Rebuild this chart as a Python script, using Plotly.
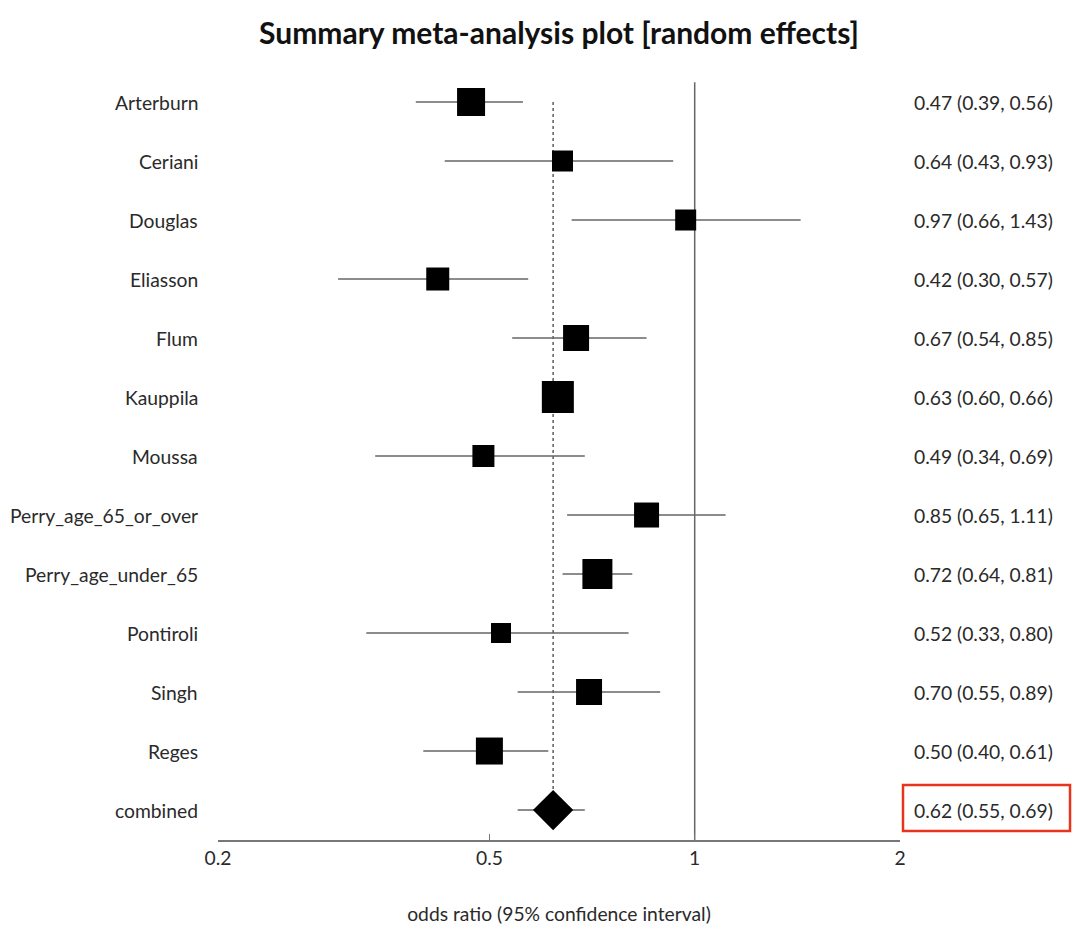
import plotly.graph_objects as go
import math

studies = ["Arterburn", "Ceriani", "Douglas", "Eliasson", "Flum", "Kauppila", "Moussa",
           "Perry_age_65_or_over", "Perry_age_under_65", "Pontiroli", "Singh", "Reges"]
odds = [0.47, 0.64, 0.97, 0.42, 0.67, 0.63, 0.49, 0.85, 0.72, 0.52, 0.70, 0.50]
lower = [0.39, 0.43, 0.66, 0.30, 0.54, 0.60, 0.34, 0.65, 0.64, 0.33, 0.55, 0.40]
upper = [0.56, 0.93, 1.43, 0.57, 0.85, 0.66, 0.69, 1.11, 0.81, 0.80, 0.89, 0.61]
box_size = [28, 21, 21, 23, 26, 32, 22, 25, 30, 20, 26, 27]

combined_label = "combined"
combined_or = 0.62
combined_lo = 0.55
combined_hi = 0.69

null_value = 1

tick_vals = [0.2, 0.5, 1, 2]
tick_text = ["0.2", "0.5", "1", "2"]

FONT = "Lato, 'Open Sans', sans-serif"
TXT = "#2a2a2a"
LINE = "#666666"
FS = 19.3

rows = list(range(len(studies)))
comb_row = len(studies)

labels = studies + [combined_label]
ors = odds + [combined_or]
los = lower + [combined_lo]
his = upper + [combined_hi]
all_rows = rows + [comb_row]

# whiskers (drawn beneath the markers)
wx, wy = [], []
for r, l, h in zip(all_rows, los, his):
    wx += [l, h, None]
    wy += [r, r, None]

fig = go.Figure()
fig.add_trace(go.Scatter(x=wx, y=wy, mode="lines", line=dict(color=LINE, width=1.4),
                         showlegend=False, hoverinfo="skip"))

fig.add_trace(go.Scatter(
    x=odds, y=rows, mode="markers",
    marker=dict(symbol="square", size=box_size, color="black", opacity=1, line=dict(width=0)),
    showlegend=False, hoverinfo="skip"))

fig.add_trace(go.Scatter(
    x=[combined_or], y=[comb_row], mode="markers",
    marker=dict(symbol="diamond", size=31, color="black", opacity=1, line=dict(width=0)),
    showlegend=False, hoverinfo="skip"))

shapes = [
    # line of no effect (shape x in data units on log axis)
    dict(type="line", xref="x", yref="paper", x0=null_value, x1=null_value, y0=0, y1=0.997,
         line=dict(color=LINE, width=1.5), layer="below"),
    # pooled estimate dotted line
    dict(type="line", xref="x", yref="y", x0=combined_or, x1=combined_or,
         y0=0, y1=comb_row, line=dict(color="#333333", width=1.2, dash="dot"), layer="below"),
    # red highlight box
    dict(type="rect", xref="paper", yref="paper", x0=1.0044, x1=1.2493, y0=0.0118, y1=0.0724,
         line=dict(color="#E8341C", width=2.5), fillcolor="rgba(0,0,0,0)"),
]

annotations = []
for i, (lab, o, l, h) in zip(all_rows, zip(labels, ors, los, his)):
    annotations.append(dict(text=lab, xref="paper", yref="y", x=0, y=i, xanchor="right",
                            yanchor="middle", xshift=-18, showarrow=False,
                            font=dict(family=FONT, size=FS, color=TXT)))
    annotations.append(dict(text=f"{o:.2f} ({l:.2f}, {h:.2f})", xref="paper", yref="y", x=1, y=i,
                            xanchor="right", yanchor="middle", xshift=155, showarrow=False,
                            font=dict(family=FONT, size=FS, color=TXT)))

fig.update_layout(
    width=1080, height=937,
    margin=dict(l=218, r=180, t=80, b=97),
    paper_bgcolor="white", plot_bgcolor="white",
    title=dict(text="<b>Summary meta-analysis plot [random effects]</b>",
               x=0.5, xref="paper", y=1 - 33 / 937, yref="container", yanchor="middle",
               font=dict(family=FONT, size=30, color="#111111")),
    xaxis=dict(type="log", range=[math.log10(0.2), math.log10(2)],
               tickvals=tick_vals, ticktext=tick_text,
               ticks="inside", ticklen=6, tickcolor="#777777", tickwidth=1.3,
               showline=True, linecolor="#777777", linewidth=1.5, mirror=False,
               showgrid=False, zeroline=False,
               tickfont=dict(family=FONT, size=FS, color=TXT),
               title=dict(text="odds ratio (95% confidence interval)", standoff=40,
                          font=dict(family=FONT, size=FS, color=TXT))),
    yaxis=dict(range=[comb_row + 0.508, -0.373], showticklabels=False, showgrid=False,
               zeroline=False, showline=False, ticks=""),
    shapes=shapes, annotations=annotations,
)

fig.write_html("out.html", config={"displayModeBar": False},
               post_script="document.body.style.margin='0';document.body.style.padding='0';")
